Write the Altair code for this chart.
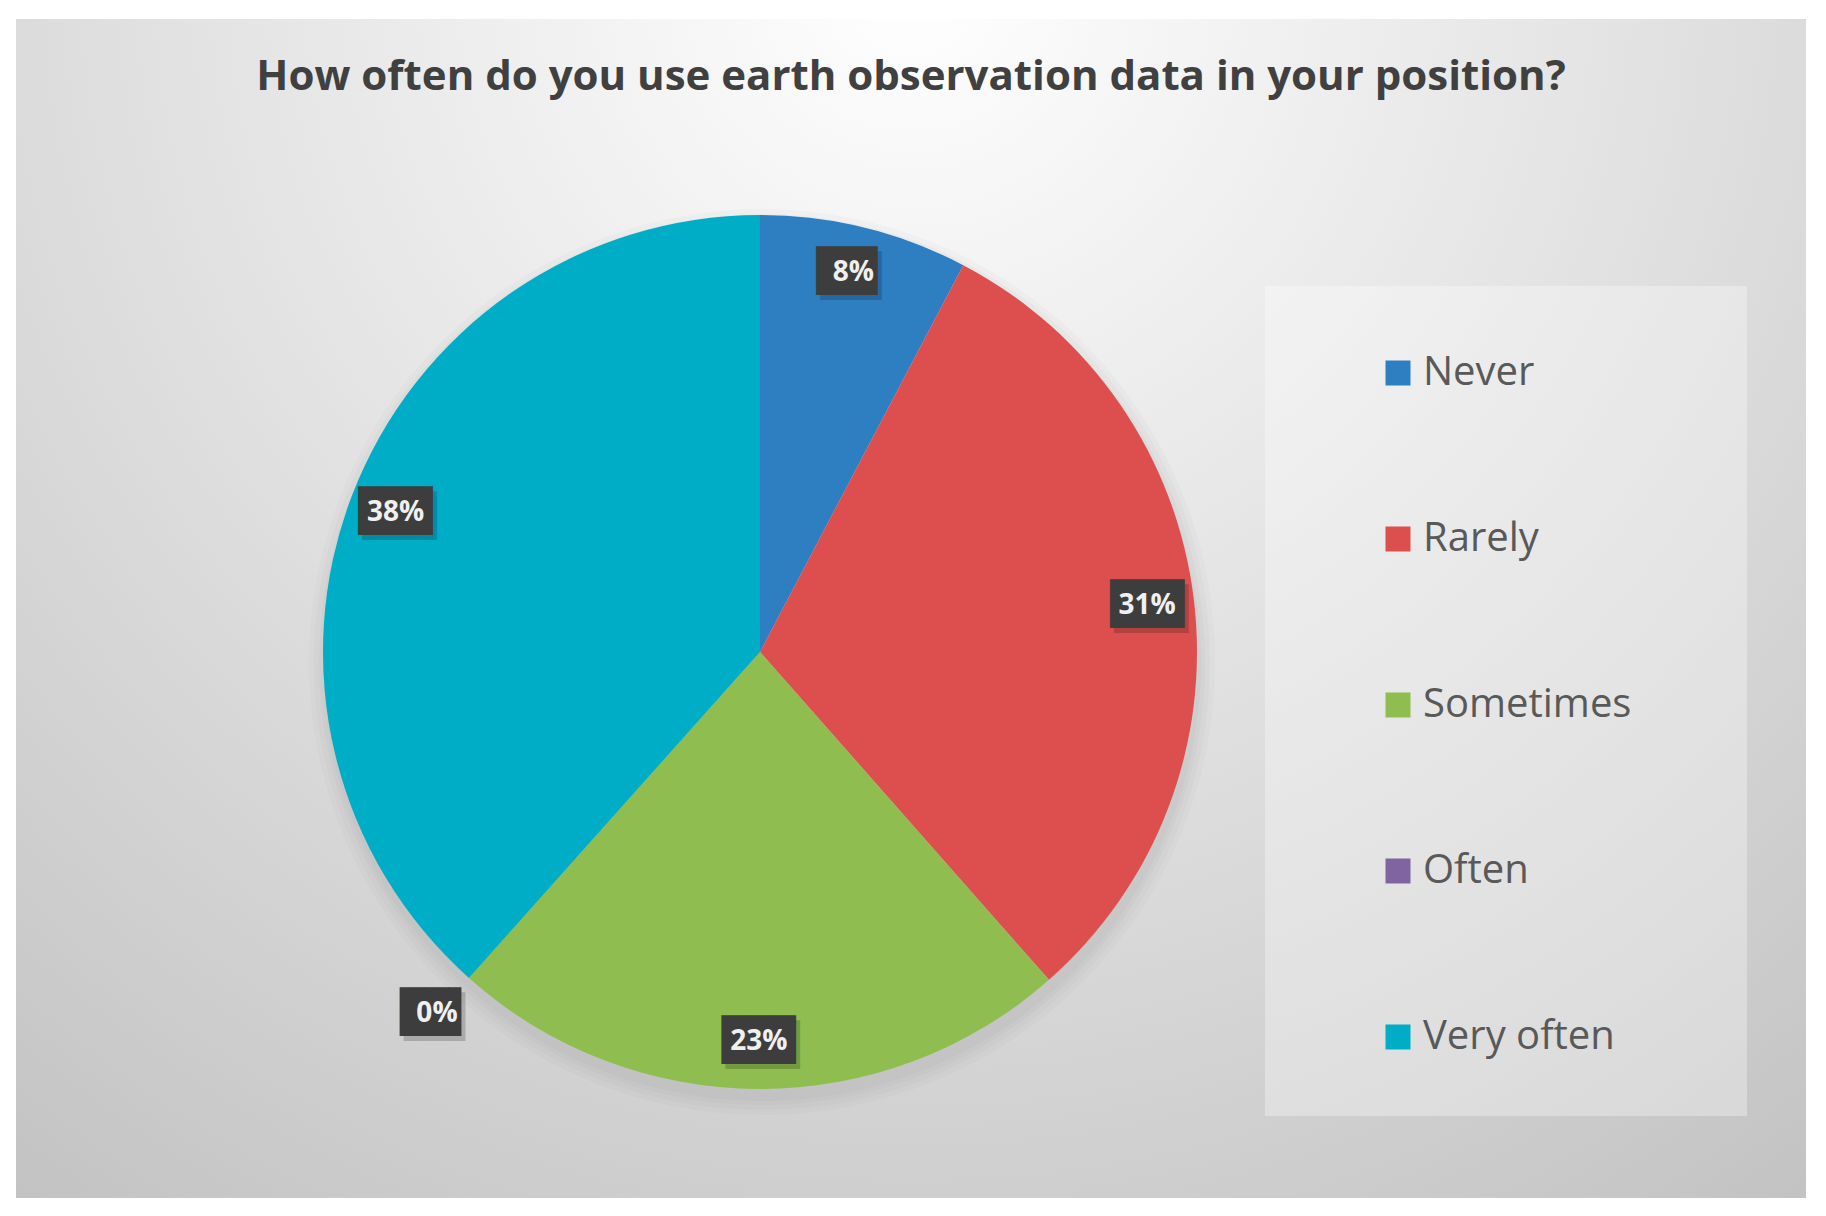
import altair as alt
import pandas as pd

categories = ["Never", "Rarely", "Sometimes", "Often", "Very often"]
shares = [7.7, 30.8, 23.1, 0.0, 38.4]
labels = ["8%", "31%", "23%", "0%", "38%"]
colors = ["#2e7fc2", "#dd4f4e", "#8fbd4f", "#8064a2", "#00adc7"]
title_text = "How often do you use earth observation data in your position?"

df = pd.DataFrame({
    "category": categories,
    "share": shares,
    "label": labels,
    "idx": list(range(len(categories))),
})

W, H = 1790, 1179
CX, CY = 744, 633
R = 437

theta_scale = alt.Scale(domain=[0, 100])
color_scale = alt.Scale(domain=categories, range=colors)

base = alt.Chart(df)

bg = base.mark_rect(
    fill={
        "gradient": "radial",
        "x1": 0.5, "y1": 0.15, "r1": 0.0,
        "x2": 0.5, "y2": 0.15, "r2": 0.85,
        "stops": [
            {"offset": 0.0, "color": "#ffffff"},
            {"offset": 0.45, "color": "#e4e4e4"},
            {"offset": 1.0, "color": "#c2c2c2"},
        ],
    },
    strokeWidth=0,
).encode(
    x=alt.value(0), x2=alt.value(W), y=alt.value(0), y2=alt.value(H)
).transform_filter("datum.idx == 0")

legend_box = base.mark_rect(fill="#ffffff", opacity=0.32, strokeWidth=0).encode(
    x=alt.value(1249), x2=alt.value(1731), y=alt.value(267), y2=alt.value(1097)
).transform_filter("datum.idx == 0")

shadows = []
for dr, op in [(16, 0.04), (11, 0.05), (6, 0.06), (2, 0.06)]:
    shadows.append(
        base.mark_arc(radius=R + dr, theta=0, theta2=6.2832, fill="#808080", opacity=op)
        .encode(x=alt.value(CX + 2), y=alt.value(CY + 10))
        .transform_filter("datum.idx == 0")
    )

pie = base.mark_arc(radius=R, strokeWidth=0).encode(
    theta=alt.Theta("share:Q", stack=True, scale=theta_scale),
    color=alt.Color(
        "category:N",
        scale=color_scale,
        legend=alt.Legend(
            title=None,
            orient="none",
            legendX=1362,
            legendY=334,
            symbolType="square",
            symbolSize=625,
            symbolStrokeWidth=0,
            labelFont="Open Sans",
            labelFontSize=40,
            labelColor="#595959",
            labelOffset=5,
            rowPadding=126,
            labelLimit=400,
        ),
    ),
    order=alt.Order("idx:Q"),
    x=alt.value(CX),
    y=alt.value(CY),
)

lab_base = base.transform_window(
    cum="sum(share)", sort=[alt.SortField("idx")]
).transform_calculate(
    mid="datum.cum - datum.share / 2",
    box="length(datum.label) > 2 ? '███' : '██▌'",
)


def label_layers(filt, radius):
    b = lab_base.transform_filter(filt)
    enc = dict(
        theta=alt.Theta("mid:Q", stack=False, scale=theta_scale),
        x=alt.value(CX),
        y=alt.value(CY),
    )
    shadow = b.mark_text(
        radius=radius, font="DejaVu Sans Mono", fontSize=41, color="#000000",
        opacity=0.18, dx=4, dy=5, align="center", baseline="middle",
    ).encode(text="box:N", **enc)
    box = b.mark_text(
        radius=radius, font="DejaVu Sans Mono", fontSize=41, color="#3d3d3d",
        align="center", baseline="middle",
    ).encode(text="box:N", **enc)
    txt = b.mark_text(
        radius=radius, font="Open Sans", fontSize=28, fontWeight="bold",
        color="#f0f0f0", align="center", baseline="middle",
    ).encode(text="label:N", **enc)
    return [shadow, box, txt]


layers = [bg, legend_box] + shadows + [pie]
layers += label_layers("datum.share > 0", 390)
layers += label_layers("datum.share == 0", 485)

chart = alt.layer(*layers).properties(
    width=W,
    height=H,
    autosize=alt.AutoSizeParams(type="none"),
    padding={"left": 8, "top": 11, "right": 0, "bottom": 0},
    title=alt.TitleParams(
        title_text,
        font="Open Sans",
        fontSize=42,
        fontWeight="bold",
        color="#404040",
        anchor="middle",
        frame="group",
        offset=-80,
    ),
).configure_view(strokeWidth=0)

chart.save("out.html", embed_options={"renderer": "svg", "actions": False})
